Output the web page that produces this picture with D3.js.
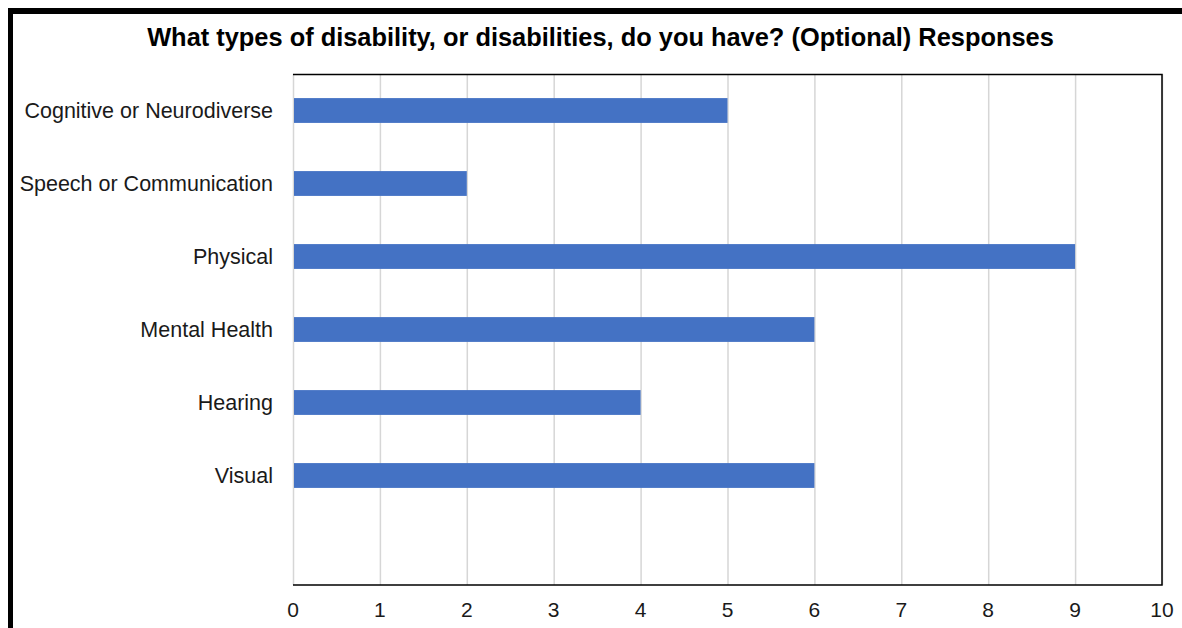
<!DOCTYPE html>
<html>
<head>
<meta charset="utf-8">
<script src="https://cdn.jsdelivr.net/npm/d3@7"></script>
<style>
  html, body { margin: 0; padding: 0; background: #fff; }
  svg { display: block; font-family: "Liberation Sans", Arial, Helvetica, sans-serif; }
</style>
</head>
<body>
<svg id="chart" width="1182" height="628"></svg>
<script>
// Survey responses per disability type
const categories = ["Cognitive or Neurodiverse", "Speech or Communication", "Physical", "Mental Health", "Hearing", "Visual", ""];
const responses = [5, 2, 9, 6, 4, 6];
const xTicks = [0, 1, 2, 3, 4, 5, 6, 7, 8, 9, 10];
const title = "What types of disability, or disabilities, do you have? (Optional) Responses";

const svg = d3.select("#chart");
const W = 1182, H = 628;
const plot = { left: 293, right: 1162, top: 74, bottom: 585 };

// Outer frame: heavy black bands on top and left
svg.append("rect").attr("x", 0).attr("y", 0).attr("width", W).attr("height", H).attr("fill", "#fff");
svg.append("rect").attr("x", 8).attr("y", 8).attr("width", W - 8).attr("height", 6).attr("fill", "#000");
svg.append("rect").attr("x", 8).attr("y", 8).attr("width", 5).attr("height", H - 8).attr("fill", "#000");

const x = d3.scaleLinear().domain([0, 10]).range([plot.left, plot.right]);
const y = d3.scaleBand().domain(categories.map((c, i) => i)).range([plot.top, plot.bottom]).paddingInner(0.66).paddingOuter(0.33);

// Vertical gridlines
svg.append("g")
  .selectAll("line")
  .data(xTicks)
  .join("line")
  .attr("x1", d => x(d) + 0.5).attr("x2", d => x(d) + 0.5)
  .attr("y1", plot.top).attr("y2", plot.bottom)
  .attr("stroke", "#d6d6d6").attr("stroke-width", 1.5);

// Bars
svg.append("g")
  .selectAll("rect")
  .data(responses)
  .join("rect")
  .attr("x", x(0) + 1)
  .attr("y", (d, i) => y(i))
  .attr("width", d => x(d) - x(0) - 1)
  .attr("height", y.bandwidth())
  .attr("fill", "#4472c4");

// Plot frame: top, right and bottom in black
const frame = svg.append("g").attr("stroke", "#000").attr("stroke-width", 1.5).attr("fill", "none");
frame.append("path").attr("d", `M${plot.left},${plot.top + 0.5}H${plot.right}V${plot.bottom}H${plot.left}`);

// Category labels
svg.append("g")
  .selectAll("text")
  .data(categories)
  .join("text")
  .attr("x", 273)
  .attr("y", (d, i) => y(i) + y.bandwidth() / 2)
  .attr("dy", "0.35em")
  .attr("text-anchor", "end")
  .attr("font-size", 21.5)
  .attr("fill", "#1a1a1a")
  .text(d => d);

// X tick labels
svg.append("g")
  .selectAll("text")
  .data(xTicks)
  .join("text")
  .attr("x", d => x(d))
  .attr("y", 610)
  .attr("dy", "0.35em")
  .attr("text-anchor", "middle")
  .attr("font-size", 21)
  .attr("fill", "#1a1a1a")
  .text(d => d);

// Title
svg.append("text")
  .attr("x", 600.5)
  .attr("y", 37)
  .attr("dy", "0.35em")
  .attr("text-anchor", "middle")
  .attr("font-size", 25.4)
  .attr("font-weight", "bold")
  .attr("fill", "#000")
  .text(title);
</script>
</body>
</html>
